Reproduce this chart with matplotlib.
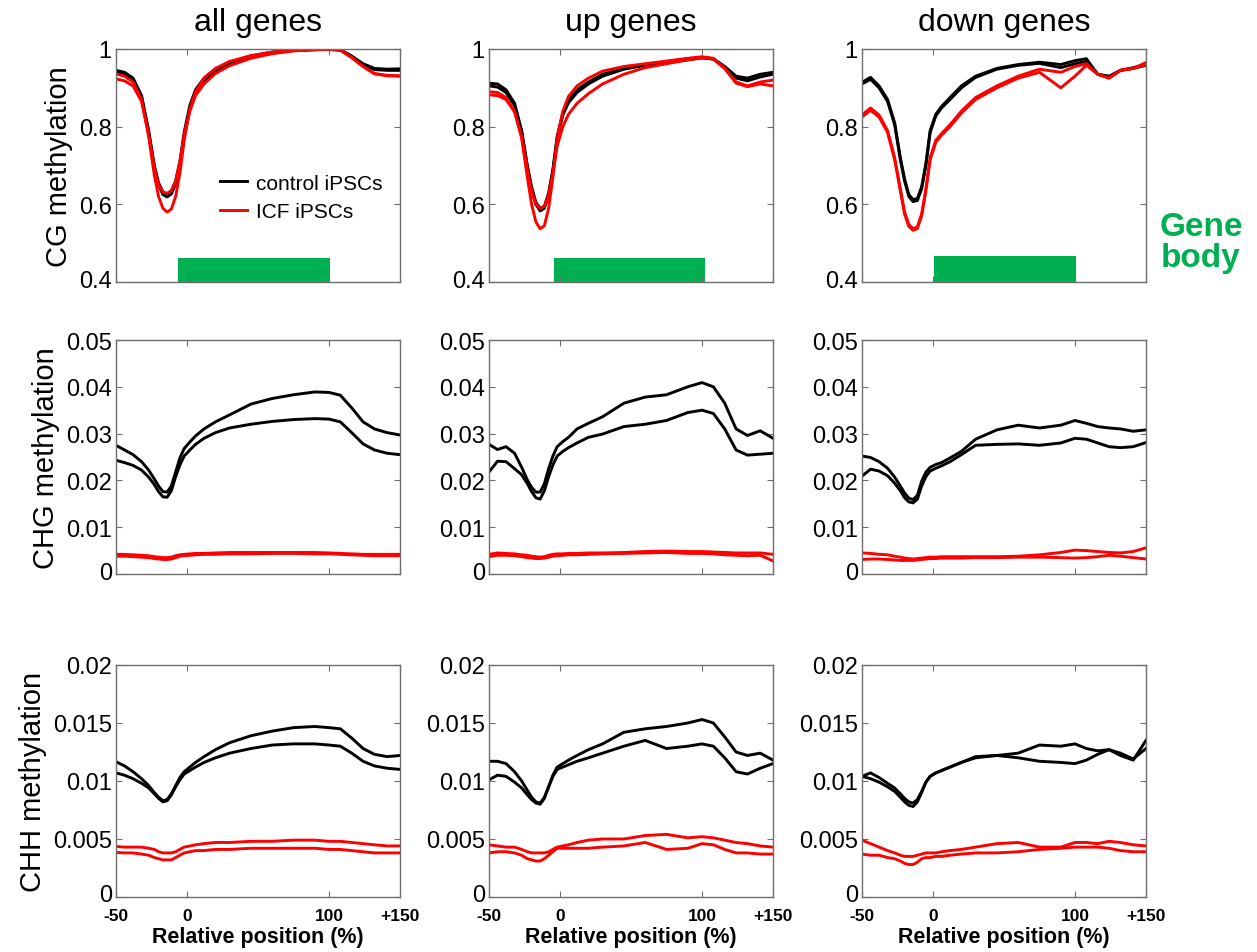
import matplotlib
matplotlib.use('Agg')
import matplotlib.pyplot as plt
import matplotlib.patches as mpatches
import matplotlib.ticker as mticker
import matplotlib.transforms as mtransforms
from matplotlib import font_manager as fm

# ── DATA ─────────────────────────────────────────────────────────────────────
POS = [-50, -44, -38, -32, -27, -23, -20, -17, -14, -11, -8, -5, -2, 2, 6, 12, 20, 30,
       45, 60, 75, 90, 100, 108, 116, 124, 132, 141, 150]

# CG methylation
CG_ALL_CTRL1 = [.945, .94, .925, .88, .79, .70, .655, .632, .627, .635, .66, .71, .785, .855, .895, .925, .948, .965, .982, .992, .997, .999, 1.0, .998, .982, .962, .95, .948, .949]
CG_ALL_CTRL2 = [.94, .935, .92, .875, .785, .695, .65, .625, .619, .627, .652, .70, .775, .845, .885, .918, .942, .96, .979, .99, .996, .998, .999, .997, .98, .96, .947, .945, .945]
CG_ALL_ICF1 = [.936, .93, .915, .87, .775, .675, .62, .59, .58, .588, .62, .68, .765, .845, .89, .925, .95, .968, .983, .992, .997, .999, 1.0, .997, .978, .955, .937, .932, .931]
CG_ALL_ICF2 = [.923, .918, .905, .865, .78, .695, .65, .632, .628, .635, .66, .71, .78, .84, .88, .91, .937, .957, .976, .988, .995, .998, .999, .997, .978, .955, .936, .931, .93]

CG_UP_CTRL1 = [.912, .91, .895, .86, .79, .70, .645, .605, .59, .595, .63, .69, .775, .835, .868, .895, .915, .935, .95, .96, .967, .975, .978, .975, .955, .93, .925, .935, .94]
CG_UP_CTRL2 = [.905, .902, .888, .855, .785, .695, .64, .60, .583, .59, .625, .685, .77, .83, .862, .888, .91, .93, .948, .958, .965, .972, .977, .974, .952, .925, .918, .928, .935]
CG_UP_ICF1 = [.89, .888, .875, .84, .77, .67, .60, .555, .537, .545, .59, .67, .77, .84, .878, .905, .925, .943, .955, .962, .969, .976, .98, .976, .95, .915, .905, .915, .92]
CG_UP_ICF2 = [.882, .88, .87, .838, .775, .69, .635, .60, .59, .595, .625, .68, .75, .80, .832, .86, .885, .91, .935, .952, .962, .972, .978, .974, .95, .912, .903, .91, .905]

CG_DOWN_CTRL1 = [.914, .927, .905, .87, .81, .72, .665, .625, .612, .615, .645, .705, .79, .832, .852, .875, .905, .93, .95, .96, .966, .96, .97, .975, .935, .93, .945, .952, .96]
CG_DOWN_CTRL2 = [.91, .922, .90, .865, .805, .715, .66, .62, .607, .61, .64, .70, .785, .828, .848, .87, .90, .927, .948, .958, .963, .952, .962, .968, .935, .928, .945, .95, .958]
CG_DOWN_ICF1 = [.83, .848, .83, .79, .72, .64, .58, .548, .537, .542, .575, .64, .72, .765, .782, .805, .84, .875, .905, .93, .948, .94, .955, .962, .935, .925, .945, .95, .965]
CG_DOWN_ICF2 = [.825, .842, .825, .785, .715, .635, .575, .543, .533, .538, .57, .635, .715, .76, .778, .80, .835, .87, .90, .925, .94, .90, .93, .958, .935, .925, .945, .95, .96]

# CHG methylation
CHG_ALL_CTRL1 = [.0275, .0265, .0255, .024, .0222, .0203, .0188, .0176, .0175, .0188, .0218, .0248, .0268, .0282, .0295, .031, .0325, .034, .0363, .0375, .0383, .0389, .0388, .0382, .0355, .0325, .031, .0302, .0297]
CHG_ALL_CTRL2 = [.0243, .0238, .0232, .0222, .0207, .0191, .0176, .0165, .0164, .0178, .0208, .0233, .0252, .0265, .0277, .029, .0302, .0312, .032, .0326, .033, .0332, .0331, .0325, .0302, .0278, .0265, .0258, .0255]
CHG_ALL_ICF1 = [.0042, .0042, .0041, .004, .0039, .0037, .0036, .0035, .0035, .0036, .0039, .0041, .0042, .0043, .0044, .0044, .0045, .0046, .0046, .0046, .0046, .0046, .0045, .0044, .0043, .0042, .0042, .0042, .0042]
CHG_ALL_ICF2 = [.0038, .0038, .0037, .0036, .0035, .0033, .0032, .0031, .0031, .0032, .0035, .0038, .0039, .004, .0041, .0042, .0042, .0043, .0043, .0044, .0044, .0043, .0043, .0042, .0041, .004, .0039, .0039, .0039]

CHG_UP_CTRL1 = [.0277, .0266, .0272, .0258, .0228, .0201, .0185, .0175, .0175, .0193, .0225, .0252, .0272, .0283, .0292, .031, .0322, .0336, .0365, .0378, .0383, .040, .0409, .040, .0365, .031, .0296, .0306, .029]
CHG_UP_CTRL2 = [.0218, .0241, .024, .0225, .0212, .0193, .0176, .0163, .016, .0178, .0208, .0233, .0252, .0262, .027, .028, .0292, .0299, .0315, .032, .0328, .0345, .035, .0343, .031, .0265, .0254, .0256, .0258]
CHG_UP_ICF1 = [.0042, .0045, .0044, .0043, .0041, .004, .0038, .0037, .0036, .0037, .004, .0042, .0043, .0043, .0044, .0044, .0045, .0045, .0046, .0048, .0049, .0048, .0048, .0047, .0046, .0045, .0045, .0045, .0042]
CHG_UP_ICF2 = [.0037, .004, .004, .0039, .0037, .0035, .0034, .0033, .0033, .0034, .0036, .0038, .0039, .004, .0041, .0041, .0042, .0043, .0044, .0045, .0046, .0044, .0044, .0043, .0041, .004, .0039, .004, .0028]

CHG_DOWN_CTRL1 = [.0252, .0249, .024, .0226, .0207, .0188, .0173, .0162, .0159, .0168, .0198, .0218, .0228, .0234, .0238, .0248, .0262, .0288, .0308, .0318, .0312, .0318, .0328, .0322, .0315, .0312, .031, .0305, .0308]
CHG_DOWN_CTRL2 = [.0209, .0224, .022, .021, .0194, .0178, .0163, .0154, .0152, .016, .0188, .0208, .022, .0226, .0231, .024, .0255, .0275, .0277, .0278, .0275, .028, .029, .0288, .028, .0272, .027, .0272, .0281]
CHG_DOWN_ICF1 = [.0045, .0044, .0042, .0041, .0038, .0036, .0034, .0033, .0032, .0033, .0034, .0035, .0036, .0036, .0037, .0037, .0037, .0037, .0037, .0038, .0041, .0046, .0051, .005, .0048, .0046, .0045, .0048, .0056]
CHG_DOWN_ICF2 = [.0031, .0032, .0032, .0031, .003, .0029, .0029, .0029, .0029, .003, .0031, .0032, .0033, .0033, .0034, .0034, .0034, .0035, .0035, .0036, .0036, .0035, .0034, .0035, .0037, .004, .0038, .0035, .0032]

# CHH methylation
CHH_ALL_CTRL1 = [.01166, .0113, .0108, .0102, .0096, .009, .0086, .0083, .0084, .0089, .0096, .0103, .0108, .0112, .0116, .0121, .0127, .0133, .0139, .0143, .0146, .0147, .0146, .0145, .0137, .0128, .0123, .0121, .0122]
CHH_ALL_CTRL2 = [.0107, .0105, .0102, .0098, .0094, .0089, .0085, .0082, .0083, .0088, .0095, .0101, .0106, .0109, .0112, .0116, .012, .0124, .0128, .0131, .0132, .0132, .0131, .013, .0124, .0117, .0113, .0111, .011]
CHH_ALL_ICF1 = [.00435, .0043, .0043, .0043, .0042, .0041, .0039, .0038, .0038, .0038, .0039, .0041, .0043, .0044, .0045, .0046, .0047, .0047, .0048, .0048, .0049, .0049, .0048, .0048, .0047, .0046, .0045, .0044, .0044]
CHH_ALL_ICF2 = [.00384, .0038, .0038, .0037, .0036, .0034, .0033, .0032, .0032, .0032, .0034, .0036, .0038, .0039, .004, .004, .0041, .0041, .0042, .0042, .0042, .0042, .0041, .0041, .004, .0039, .0038, .0038, .0038]

CHH_UP_CTRL1 = [.0117, .0117, .0115, .0108, .01, .0092, .0086, .0082, .0081, .0086, .0095, .0105, .0112, .0115, .0118, .0122, .0127, .0132, .0142, .0145, .0147, .015, .0153, .015, .0138, .0125, .0122, .0124, .0118]
CHH_UP_CTRL2 = [.0101, .0105, .0104, .0099, .0094, .0088, .0084, .0081, .008, .0085, .0095, .0104, .011, .0112, .0114, .0117, .012, .0124, .013, .0135, .0128, .013, .0132, .013, .012, .0108, .0106, .0111, .0115]
CHH_UP_ICF1 = [.0045, .0044, .0043, .0043, .0041, .0039, .0038, .0038, .0038, .0038, .0039, .0041, .0043, .0044, .0045, .0047, .0049, .005, .005, .0053, .0054, .0051, .0052, .0051, .0049, .0047, .0046, .0044, .0043]
CHH_UP_ICF2 = [.0038, .0039, .0039, .0038, .0036, .0033, .0032, .0031, .0031, .0033, .0036, .0039, .0042, .0042, .0042, .0042, .0042, .0043, .0044, .0047, .0041, .0042, .0046, .0045, .0041, .0038, .0038, .0037, .0037]

CHH_DOWN_CTRL1 = [.0104, .0107, .0103, .0098, .0094, .0089, .0085, .0082, .0081, .0084, .0091, .0099, .0104, .0107, .0109, .0112, .0116, .0121, .0122, .0124, .0131, .013, .0132, .0128, .0126, .0127, .0122, .0118, .0135]
CHH_DOWN_CTRL2 = [.0104, .0102, .0099, .0095, .0091, .0086, .0082, .0079, .0078, .0082, .009, .0099, .0104, .0107, .0109, .0112, .0116, .012, .0122, .012, .0117, .0116, .0115, .0118, .0123, .0127, .0124, .0119, .0128]
CHH_DOWN_ICF1 = [.0049, .0046, .0043, .004, .0038, .0036, .0035, .0035, .0035, .0036, .0037, .0038, .0038, .0038, .0039, .004, .0041, .0043, .0046, .0047, .0043, .0043, .0047, .0047, .0046, .0048, .0047, .0045, .0044]
CHH_DOWN_ICF2 = [.0037, .0036, .0036, .0034, .0033, .0031, .0029, .0028, .0028, .003, .0033, .0034, .0034, .0035, .0035, .0036, .0037, .0038, .0038, .0039, .0041, .0042, .0043, .0043, .0043, .0042, .004, .0039, .0039]

COL_TITLES = ['all genes', 'up genes', 'down genes']
ROW_LABELS = ['CG methylation', 'CHG methylation', 'CHH methylation']
ROW_LIMITS = [(0.4, 1.0), (0, 0.05), (0, 0.02)]
ROW_TICKS = [[0.4, 0.6, 0.8, 1.0], [0, 0.01, 0.02, 0.03, 0.04, 0.05], [0, 0.005, 0.01, 0.015, 0.02]]
ROW_TICKLABELS = [['0.4', '0.6', '0.8', '1'],
                  ['0', '0.01', '0.02', '0.03', '0.04', '0.05'],
                  ['0', '0.005', '0.01', '0.015', '0.02']]
X_TICKS = [-50, 0, 100, 150]
X_TICKLABELS = ['-50', '0', '100', '+150']
# gene-body bar per column: start, end, top (CG scale)
GENE_BODY_START = [-6, -4, 0.5]
GENE_BODY_END = [101, 102, 101]
GENE_BODY_TOP = [0.462, 0.462, 0.467]
LEGEND_LABELS = ['control iPSCs', 'ICF iPSCs']

PANELS = [
    [(CG_ALL_CTRL1, CG_ALL_CTRL2, CG_ALL_ICF1, CG_ALL_ICF2),
     (CG_UP_CTRL1, CG_UP_CTRL2, CG_UP_ICF1, CG_UP_ICF2),
     (CG_DOWN_CTRL1, CG_DOWN_CTRL2, CG_DOWN_ICF1, CG_DOWN_ICF2)],
    [(CHG_ALL_CTRL1, CHG_ALL_CTRL2, CHG_ALL_ICF1, CHG_ALL_ICF2),
     (CHG_UP_CTRL1, CHG_UP_CTRL2, CHG_UP_ICF1, CHG_UP_ICF2),
     (CHG_DOWN_CTRL1, CHG_DOWN_CTRL2, CHG_DOWN_ICF1, CHG_DOWN_ICF2)],
    [(CHH_ALL_CTRL1, CHH_ALL_CTRL2, CHH_ALL_ICF1, CHH_ALL_ICF2),
     (CHH_UP_CTRL1, CHH_UP_CTRL2, CHH_UP_ICF1, CHH_UP_ICF2),
     (CHH_DOWN_CTRL1, CHH_DOWN_CTRL2, CHH_DOWN_ICF1, CHH_DOWN_ICF2)],
]

# ── STYLE ────────────────────────────────────────────────────────────────────
W, H = 1257, 953
GREEN = '#00b050'
SPINE = '#6e6e6e'
plt.rcParams['font.family'] = ['Liberation Sans', 'DejaVu Sans']
names = {f.name for f in fm.fontManager.ttflist}
NARROW = 'Liberation Sans Narrow' if 'Liberation Sans Narrow' in names else 'Liberation Sans'

# axes boxes in pixels (left, right) / (top, bottom)
COLS_PX = [(116, 400), (489, 773), (862, 1146)]
ROWS_PX = [(50, 283), (341, 575), (666, 898)]

fig = plt.figure(figsize=(W / 100, H / 100), dpi=100, facecolor='white')
lift = mtransforms.ScaledTranslation(0, 4 / 100, fig.dpi_scale_trans)

for r in range(3):
    for c in range(3):
        x0, x1 = COLS_PX[c]
        y0, y1 = ROWS_PX[r]
        ax = fig.add_axes([x0 / W, 1 - y1 / H, (x1 - x0) / W, (y1 - y0) / H])
        ctrl1, ctrl2, icf1, icf2 = PANELS[r][c]
        ax.plot(POS, ctrl1, color='black', lw=2.1, label=LEGEND_LABELS[0])
        ax.plot(POS, ctrl2, color='black', lw=2.1)
        ax.plot(POS, icf1, color='#ff0000', lw=2.1, label=LEGEND_LABELS[1])
        ax.plot(POS, icf2, color='#ff0000', lw=2.1)

        ax.set_xlim(-50, 150)
        ax.set_ylim(*ROW_LIMITS[r])
        ax.yaxis.set_major_locator(mticker.FixedLocator(ROW_TICKS[r]))
        ax.yaxis.set_major_formatter(mticker.FixedFormatter(ROW_TICKLABELS[r]))
        ax.xaxis.set_major_locator(mticker.FixedLocator(X_TICKS))
        ax.tick_params(direction='in', top=True, right=True, length=4, width=0.8,
                       color=SPINE, labelsize=17, pad=3)
        ax.tick_params(axis='x', labelsize=12.5, pad=8)
        if r == 2:
            ax.xaxis.set_major_formatter(mticker.FixedFormatter(X_TICKLABELS))
            for t in ax.get_xticklabels():
                t.set_fontweight('bold')
            ax.set_xlabel('Relative position (%)', fontsize=15.5, fontweight='bold', labelpad=2)
        else:
            ax.set_xticklabels([])
        # bottom y label sits slightly above the axis line, as in the original
        bottom_lbl = ax.get_yticklabels()[0]
        bottom_lbl.set_transform(bottom_lbl.get_transform() + lift)
        for s in ax.spines.values():
            s.set_color(SPINE)
            s.set_linewidth(1.0)

        if r == 0:
            ax.add_patch(mpatches.Rectangle((GENE_BODY_START[c], ROW_LIMITS[0][0]),
                                            GENE_BODY_END[c] - GENE_BODY_START[c],
                                            GENE_BODY_TOP[c] - ROW_LIMITS[0][0],
                                            facecolor=GREEN, edgecolor='none', zorder=1))
            ax.set_title(COL_TITLES[c], fontsize=23, pad=14)
        if c == 0:
            ax.set_ylabel(ROW_LABELS[r], fontsize=21, family=[NARROW, 'DejaVu Sans'], labelpad=4)
        if r == 0 and c == 0:
            ax.legend(loc='upper left', bbox_to_anchor=(0.30, 0.545), frameon=False,
                      fontsize=15, handlelength=1.3, handletextpad=0.45, labelspacing=0.45)

fig.text(1201 / W, 1 - 243 / H, 'Gene\nbody', color=GREEN, fontsize=24, fontweight='bold',
         ha='center', va='center', linespacing=1.0)

fig.savefig('out.png', dpi=100, facecolor='white')
